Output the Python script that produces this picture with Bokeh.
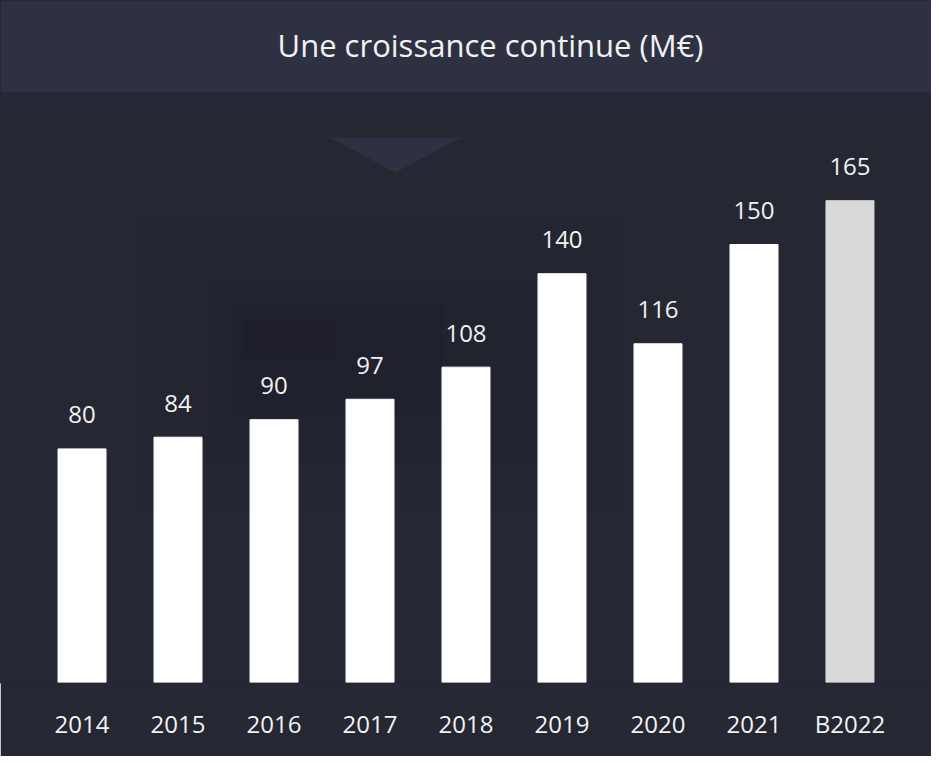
from bokeh.plotting import figure
from bokeh.models import FactorRange, Range1d, BoxAnnotation, ColumnDataSource
from bokeh.core.properties import value
from bokeh.embed import file_html
from bokeh.resources import INLINE

# ---- data ----
years = ["2014", "2015", "2016", "2017", "2018", "2019", "2020", "2021", "B2022"]
revenue = [80, 84, 90, 97, 108, 140, 116, 150, 165]
bar_colors = ["#ffffff"] * 8 + ["#d9d9d9"]
title_text = "Une croissance continue (M€)"

# ---- style ----
BODY = "#252733"
BAND = "#2e3141"
TEXT = "#f2f2f2"
FONT = "Open Sans"

W, H = 931, 756
FRAME_H = 682
PX_PER_UNIT = 2.92
Y_MAX = FRAME_H / PX_PER_UNIT
PAD = 0.0776
N = len(years)
X_START = -N * PAD / 2
X_UNITS_PER_PX = N * (1 + PAD) / W


def ypx(py):
    """page pixel y -> data y (decoration placement only)"""
    return (8 + FRAME_H - py) / PX_PER_UNIT


def xpx(px):
    """page pixel x -> synthetic x (decoration placement only)"""
    return X_START + (px - 8) * X_UNITS_PER_PX


p = figure(
    width=W, height=H,
    x_range=FactorRange(factors=years, range_padding=PAD, range_padding_units="percent"),
    y_range=Range1d(0, Y_MAX),
    output_backend="svg", toolbar_location=None,
    min_border=0, min_border_bottom=H - FRAME_H,
    y_axis_location=None,
)
p.background_fill_color = BODY
p.border_fill_color = BODY
p.outline_line_color = BODY
p.outline_line_width = 2
p.xgrid.grid_line_color = None
p.ygrid.grid_line_color = None

# title band
p.add_layout(BoxAnnotation(bottom=ypx(100), fill_color=BAND, fill_alpha=1.0,
                           line_alpha=0, level="underlay"))

# subtle vignette
for (l, r, t, b) in [(150, 630, 225, 520), (215, 560, 290, 470),
                     (238, 450, 310, 425), (253, 345, 327, 367)]:
    p.quad(left=[xpx(l)], right=[xpx(r)], top=[ypx(t)], bottom=[ypx(b)],
           fill_color="black", fill_alpha=0.03, line_alpha=0, level="underlay")

# triangle under title
p.patch(x=[xpx(337), xpx(469), xpx(403)], y=[ypx(145), ypx(145), ypx(180)],
        fill_color=BAND, line_alpha=0)

# title
p.text(x=[xpx(498)], y=[ypx(52)], text=[title_text], text_align="center",
       text_baseline="alphabetic", text_font=value(FONT), text_font_size="31px",
       text_color=TEXT)

src = ColumnDataSource(dict(year=years, value=revenue, color=bar_colors,
                            label=[str(v) for v in revenue]))
p.vbar(x="year", top="value", width=0.5, fill_color="color", line_color="color",
       source=src)
p.text(x="year", y="value", text="label", source=src, text_align="center",
       text_baseline="alphabetic", y_offset=-34, text_font=value(FONT),
       text_font_size="24px", text_color=TEXT)

ax = p.xaxis[0]
ax.axis_line_color = None
ax.major_tick_line_color = None
ax.minor_tick_line_color = None
ax.major_label_text_font = FONT
ax.major_label_text_font_size = "24px"
ax.major_label_text_color = TEXT
ax.major_label_standoff = 18

open("out.html", "w").write(file_html(p, INLINE))
